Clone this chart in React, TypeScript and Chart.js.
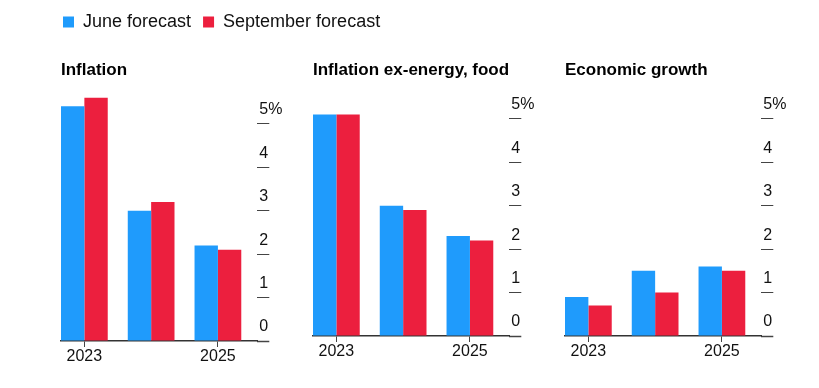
import React, { useEffect, useRef } from 'react';
import { Chart, registerables } from 'chart.js';

Chart.register(...registerables);

// ---------- data ----------
const categories = [2023, 2024, 2025];
const seriesNames = ['June forecast', 'September forecast'];
const panelTitles = ['Inflation', 'Inflation ex-energy, food', 'Economic growth'];
const inflationJune = [5.4, 3.0, 2.2];
const inflationSept = [5.6, 3.2, 2.1];
const coreJune = [5.1, 3.0, 2.3];
const coreSept = [5.1, 2.9, 2.2];
const growthJune = [0.9, 1.5, 1.6];
const growthSept = [0.7, 1.0, 1.5];
const xTickValues = [2023, 2025];
const yTickValues = [0, 1, 2, 3, 4, 5];
const yTickLabels = ['0', '1', '2', '3', '4', '5%'];

const juneSeries = [inflationJune, coreJune, growthJune];
const septSeries = [inflationSept, coreSept, growthSept];

// ---------- styles / layout ----------
const W = 819;
const H = 388;
const BLUE = '#1f9bfc';
const RED = '#ec1f3e';
const FONT = "'Liberation Sans', Arial, Helvetica, sans-serif";
const X_MIN = 2022.65;
const X_MAX = 2025.59;
const PLOT_W = 196.3;
const Y_MAX = 5.8;
const UNIT_Y = 43.45;
const TITLE_PAD_TOP = 60.6;
const TITLE_SIZE = 17;

const panelLayout = [
  { left: 61, bottom: 341 },
  { left: 313, bottom: 336 },
  { left: 565, bottom: 336 },
];

Chart.defaults.font.family = FONT;

function panelConfig(i: number): any {
  const L = panelLayout[i];
  const top = L.bottom - Y_MAX * UNIT_Y;
  const titleLineH = TITLE_SIZE * 1.2;
  return {
    type: 'bar',
    data: {
      labels: categories,
      datasets: [
        { label: seriesNames[0], data: juneSeries[i], backgroundColor: BLUE, borderWidth: 0, categoryPercentage: 0.7, barPercentage: 1 },
        { label: seriesNames[1], data: septSeries[i], backgroundColor: RED, borderWidth: 0, categoryPercentage: 0.7, barPercentage: 1 },
      ],
    },
    options: {
      responsive: false,
      animation: false,
      events: [],
      layout: { padding: { left: L.left, right: 0, top: 0, bottom: 0 } },
      plugins: {
        legend: { display: false },
        tooltip: { enabled: false },
        title: {
          display: true,
          text: panelTitles[i],
          align: 'start',
          color: '#000',
          font: { family: FONT, size: TITLE_SIZE, weight: 'bold', lineHeight: 1.2 },
          padding: { top: TITLE_PAD_TOP, bottom: top - TITLE_PAD_TOP - titleLineH },
        },
      },
      scales: {
        x: {
          type: 'linear',
          min: X_MIN,
          max: X_MAX,
          offset: false,
          afterBuildTicks: (s: any) => {
            s.ticks = xTickValues.map((v) => ({ value: v }));
          },
          afterFit: (s: any) => {
            s.height = H - L.bottom;
          },
          grid: {
            display: true,
            offset: false,
            drawOnChartArea: false,
            drawTicks: true,
            tickLength: 6,
            tickColor: '#444',
            tickWidth: 1,
          },
          border: { display: true, color: '#333', width: 1.5 },
          ticks: {
            font: { family: FONT, size: 16 },
            color: '#111',
            padding: 0,
            maxRotation: 0,
            autoSkip: false,
            callback: (v: any) => String(v),
          },
        },
        y: {
          type: 'linear',
          position: 'right',
          min: 0,
          max: Y_MAX,
          afterBuildTicks: (s: any) => {
            s.ticks = yTickValues.map((v) => ({ value: v }));
          },
          afterFit: (s: any) => {
            s.width = W - L.left - PLOT_W;
          },
          grid: {
            drawOnChartArea: false,
            drawTicks: true,
            tickLength: 12,
            tickColor: '#444',
            tickWidth: (ctx: any) => (ctx.tick && ctx.tick.value === 0 ? 1.5 : 1),
          },
          border: { display: false },
          ticks: {
            font: { family: FONT, size: 16 },
            color: '#111',
            padding: -10,
            crossAlign: 'near',
            labelOffset: -14,
            autoSkip: false,
            callback: (v: any) => {
              const k = yTickValues.indexOf(Number(v));
              return k >= 0 ? yTickLabels[k] : '';
            },
          },
        },
      },
    },
  };
}

const legendConfig: any = {
  type: 'bar',
  data: {
    labels: [],
    datasets: [
      { label: seriesNames[0], data: [], backgroundColor: BLUE, borderWidth: 0 },
      { label: seriesNames[1], data: [], backgroundColor: RED, borderWidth: 0 },
    ],
  },
  options: {
    responsive: false,
    animation: false,
    events: [],
    layout: { padding: { left: 51, top: 1 } },
    scales: { x: { display: false }, y: { display: false } },
    plugins: {
      tooltip: { enabled: false },
      title: { display: false },
      legend: {
        display: true,
        position: 'top',
        align: 'start',
        labels: {
          boxWidth: 11,
          boxHeight: 11,
          padding: 12,
          color: '#111',
          font: { family: FONT, size: 18 },
        },
      },
    },
  },
};

export default function App() {
  const r0 = useRef<HTMLCanvasElement>(null);
  const r1 = useRef<HTMLCanvasElement>(null);
  const r2 = useRef<HTMLCanvasElement>(null);
  const r3 = useRef<HTMLCanvasElement>(null);
  const refs = [r0, r1, r2, r3];

  useEffect(() => {
    const charts: Chart[] = [];
    charts.push(new Chart(r0.current as HTMLCanvasElement, legendConfig));
    [r1, r2, r3].forEach((r, i) => {
      charts.push(new Chart(r.current as HTMLCanvasElement, panelConfig(i)));
    });
    return () => charts.forEach((c) => c.destroy());
  }, []);

  return (
    <div style={{ position: 'absolute', left: 0, top: 0, width: W, height: H, background: '#fff' }}>
      {refs.map((r, i) => (
        <canvas
          key={i}
          ref={r}
          width={W}
          height={H}
          style={{ position: 'absolute', left: 0, top: 0, width: W, height: H }}
        />
      ))}
    </div>
  );
}
